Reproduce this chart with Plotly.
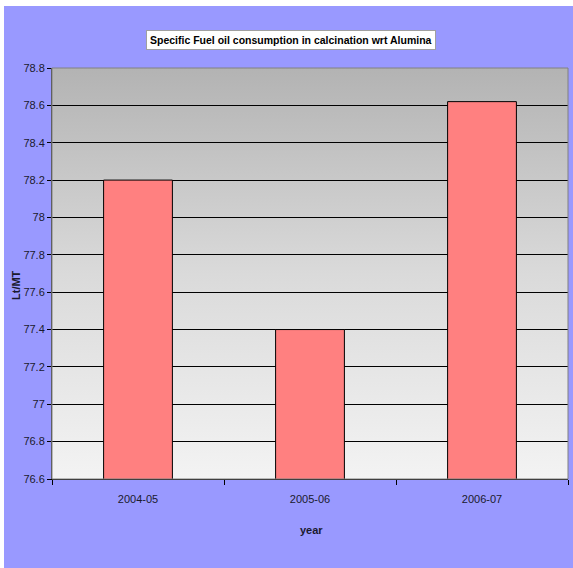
import base64
import plotly.graph_objects as go

years = ["2004-05", "2005-06", "2006-07"]
consumption = [78.2, 77.4, 78.62]

title_text = "Specific Fuel oil consumption in calcination wrt Alumina"
y_title = "Lt/MT"
x_title = "year"

FONT = "Liberation Sans Narrow, Arial Narrow, Liberation Sans, Arial, sans-serif"
TXT = "#1a1a2e"

W, H = 573, 568
L, R, T, B = 52, 5, 68, 89
PW, PH = W - L - R, H - T - B


def px(x):
    return (x - L) / PW


def py(y):
    return (H - B - y) / PH


svg = ('<svg xmlns="http://www.w3.org/2000/svg" width="100" height="100" preserveAspectRatio="none">'
       '<defs><linearGradient id="g" x1="0" y1="0" x2="0" y2="1">'
       '<stop offset="0" stop-color="#b3b3b3"/><stop offset="0.5" stop-color="#dadada"/>'
       '<stop offset="1" stop-color="#f3f3f3"/></linearGradient></defs>'
       '<rect width="100" height="100" fill="url(#g)"/></svg>')
svg_uri = "data:image/svg+xml;base64," + base64.b64encode(svg.encode()).decode()

fig = go.Figure()
fig.add_trace(go.Bar(
    x=years, y=consumption, width=0.4,
    marker=dict(color="#FF8080", line=dict(color="#000000", width=1)),
))

fig.update_layout(
    width=W, height=H,
    margin=dict(l=L, r=R, t=T, b=B),
    paper_bgcolor="#9999FF",
    plot_bgcolor="#f0f0f0",
    showlegend=False,
    font=dict(family=FONT, size=11, color=TXT),
    images=[dict(source=svg_uri, xref="paper", yref="paper", x=0, y=1,
                 sizex=1, sizey=1, sizing="stretch", xanchor="left", yanchor="top",
                 layer="below")],
    xaxis=dict(
        type="category",
        showgrid=False, showline=True, linecolor="#000000", linewidth=1,
        ticks="outside", tickson="boundaries", ticklen=5, tickcolor="#000000",
        ticklabelstandoff=10,
        tickfont=dict(family=FONT, size=11, color=TXT),
    ),
    yaxis=dict(
        range=[76.6, 78.8], dtick=0.2, tick0=76.6,
        showgrid=True, gridcolor="#000000", gridwidth=1,
        showline=True, linecolor="#404040", linewidth=1,
        ticks="outside", ticklen=4, tickcolor="#000000",
        tickfont=dict(family=FONT, size=11, color=TXT),
        zeroline=False,
    ),
    shapes=[
        dict(type="rect", xref="paper", yref="paper", x0=0, x1=1, y0=0, y1=1,
             line=dict(color="#808080", width=1), layer="above"),
        dict(type="rect", xref="paper", yref="paper", x0=px(0), x1=px(4),
             y0=py(H), y1=py(0), fillcolor="white", line=dict(width=0), layer="above"),
        dict(type="rect", xref="paper", yref="paper", x0=px(0), x1=px(W),
             y0=py(6), y1=py(0), fillcolor="white", line=dict(width=0), layer="above"),
    ],
    annotations=[
        dict(text="<b>" + title_text + "</b>", xref="paper", yref="paper",
             x=px(291), y=py(40), xanchor="center", yanchor="middle",
             showarrow=False, bgcolor="white", bordercolor="#a0a0a0", borderwidth=1, borderpad=3,
             font=dict(family=FONT, size=10.5, color="#000000")),
        dict(text="<b>" + y_title + "</b>", xref="paper", yref="paper",
             x=px(16), y=py(285), xanchor="center", yanchor="middle", textangle=-90,
             showarrow=False, font=dict(family=FONT, size=11, color=TXT)),
        dict(text="<b>" + x_title + "</b>", xref="paper", yref="paper",
             x=px(311), y=py(530), xanchor="center", yanchor="middle",
             showarrow=False, font=dict(family=FONT, size=11, color=TXT)),
    ],
)

fig.write_html("out.html")
